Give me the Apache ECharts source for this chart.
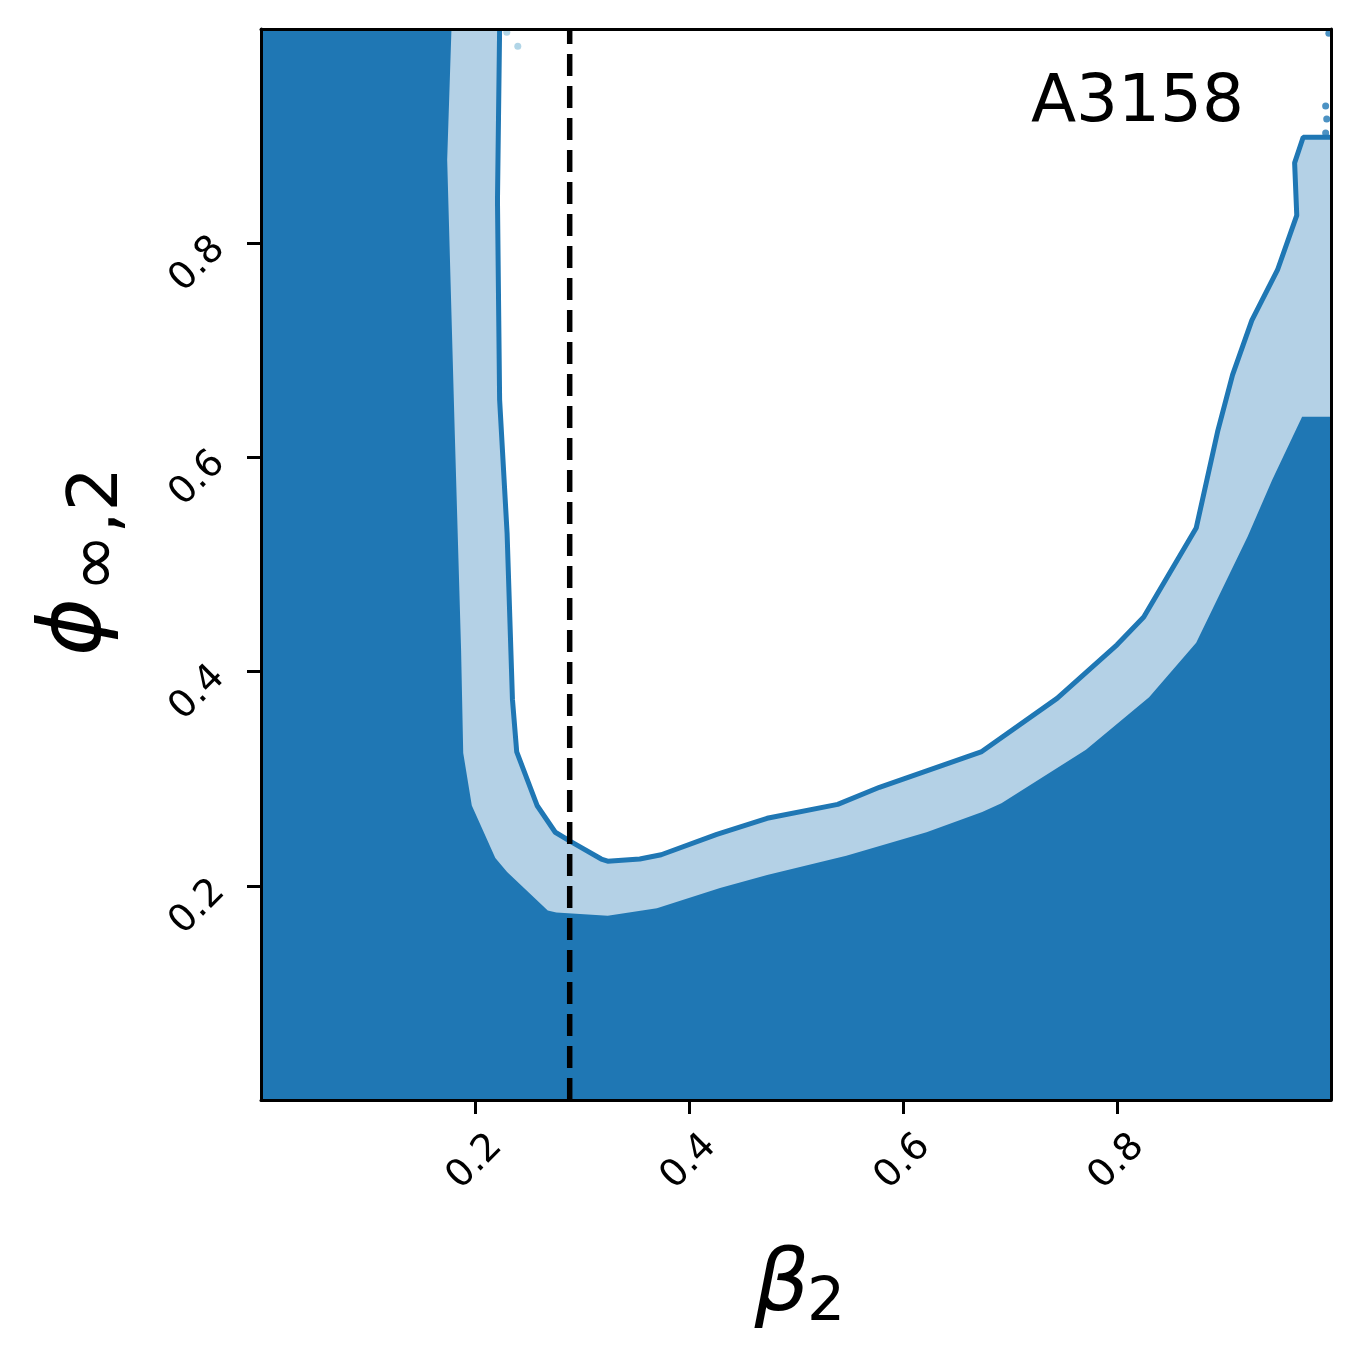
<!DOCTYPE html>
<html>
<head>
<meta charset="utf-8">
<script src="https://cdn.jsdelivr.net/npm/echarts@6/dist/echarts.min.js"></script>
<style>
  html, body { margin: 0; padding: 0; background: #fff; }
  #chart { width: 1362px; height: 1361px; }
</style>
</head>
<body>
<div id="chart"></div>
<script>
// edge of the dark (inner) credible region
const darkEdge = [
  [0.178, 1.0], [0.174, 0.878], [0.181, 0.626], [0.187, 0.420], [0.189, 0.324],
  [0.197, 0.275], [0.219, 0.226], [0.230, 0.213], [0.268, 0.177], [0.276, 0.175],
  [0.324, 0.172], [0.370, 0.179], [0.429, 0.198], [0.473, 0.210], [0.547, 0.228],
  [0.622, 0.250], [0.674, 0.269], [0.692, 0.277], [0.771, 0.327], [0.830, 0.376],
  [0.874, 0.427], [0.922, 0.526], [0.945, 0.579], [0.973, 0.638], [1.0, 0.638]
];
// outer contour (light region edge, drawn as a line)
const outerContour = [
  [0.223, 1.0], [0.221, 0.840], [0.223, 0.654], [0.230, 0.529], [0.235, 0.374],
  [0.239, 0.325], [0.258, 0.275], [0.275, 0.250], [0.290, 0.241], [0.318, 0.225],
  [0.324, 0.223], [0.354, 0.225], [0.374, 0.229], [0.426, 0.248], [0.473, 0.263],
  [0.539, 0.276], [0.578, 0.292], [0.673, 0.325], [0.744, 0.375], [0.800, 0.425],
  [0.825, 0.451], [0.874, 0.534], [0.894, 0.624], [0.908, 0.677], [0.926, 0.728],
  [0.950, 0.775], [0.968, 0.826], [0.966, 0.875], [0.974, 0.899], [1.0, 0.899]
];
const lightDots = [[0.2297, 0.997], [0.240, 0.984]];
const darkDots = [[0.998, 0.996], [0.995, 0.928], [0.996, 0.916], [0.995, 0.903]];
const betaRef = 0.2885;
const tickValues = [0.2, 0.4, 0.6, 0.8];

const dark = '#1f77b4';
const light = '#b4d1e6';

// closed polygons: region below/left of each edge
const lightPoly = [[0, 1]].concat(outerContour, [[1, 0], [0, 0]]);
const darkPoly = [[0, 1]].concat(darkEdge, [[1, 0], [0, 0]]);
const polys = [lightPoly, darkPoly];
const polyColors = [light, dark];

let myChart = echarts.init(document.getElementById('chart'), null, { renderer: 'canvas' });

const tickLabel = {
  customValues: tickValues,
  formatter: function (v) { return v.toFixed(1); },
  rotate: 45,
  color: '#000',
  fontFamily: 'DejaVu Sans',
  fontSize: 38
};
const axisBase = {
  type: 'value',
  min: 0,
  max: 1,
  z: 10,
  splitLine: { show: false },
  axisLine: { show: true, onZero: false, lineStyle: { color: '#000', width: 3 } },
  axisTick: { show: true, customValues: tickValues, length: 14, lineStyle: { color: '#000', width: 3 } }
};
const frameAxis = {
  type: 'value', min: 0, max: 1, z: 10,
  splitLine: { show: false }, axisTick: { show: false }, axisLabel: { show: false },
  axisLine: { show: true, onZero: false, lineStyle: { color: '#000', width: 3 } }
};

let option = {
  animation: false,
  backgroundColor: '#fff',
  grid: { left: 261, right: 31, top: 29, bottom: 261 },
  xAxis: [
    Object.assign({}, axisBase, { position: 'bottom', axisLabel: Object.assign({}, tickLabel, { margin: 62, align: 'center', verticalAlign: 'middle' }) }),
    Object.assign({}, frameAxis, { position: 'top' })
  ],
  yAxis: [
    Object.assign({}, axisBase, { position: 'left', axisLabel: Object.assign({}, tickLabel, { margin: 42 }) }),
    Object.assign({}, frameAxis, { position: 'right' })
  ],
  series: [
    {
      type: 'custom',
      data: [0, 1],
      clip: true,
      z: 1,
      renderItem: function (params, api) {
        let pts = polys[params.dataIndex].map(function (p) { return api.coord(p); });
        return {
          type: 'polygon',
          shape: { points: pts },
          style: { fill: polyColors[params.dataIndex], stroke: null }
        };
      }
    },
    {
      type: 'line',
      data: outerContour,
      showSymbol: false,
      clip: true,
      z: 3,
      lineStyle: { color: dark, width: 5 }
    },
    {
      type: 'scatter',
      data: lightDots,
      symbolSize: 7,
      z: 3,
      itemStyle: { color: '#9ecae1' }
    },
    {
      type: 'scatter',
      data: darkDots,
      symbolSize: 7,
      z: 3,
      itemStyle: { color: dark }
    },
    {
      type: 'line',
      data: [[betaRef, 0], [betaRef, 1]],
      showSymbol: false,
      z: 4,
      lineStyle: { color: '#000', width: 5.5, type: [22, 10] }
    }
  ],
  graphic: [
    {
      type: 'text', x: 1244, y: 104,
      style: { text: 'A3158', font: '66px "DejaVu Sans"', fill: '#000', align: 'right', verticalAlign: 'middle' }
    },
    {
      type: 'text', x: 782, y: 1288,
      style: { text: 'β', font: 'italic 86px "DejaVu Sans"', fill: '#000', align: 'center', verticalAlign: 'middle' }
    },
    {
      type: 'text', x: 807, y: 1304,
      style: { text: '2', font: '60px "DejaVu Sans"', fill: '#000', align: 'left', verticalAlign: 'middle' }
    },
    {
      type: 'group', x: 77, y: 627, rotation: Math.PI / 2,
      children: [
        {
          type: 'text', x: 0, y: 0,
          style: { text: 'ϕ', font: 'italic 88px "DejaVu Sans"', fill: '#000', align: 'center', verticalAlign: 'middle' }
        },
        {
          type: 'text', x: 35, y: 22,
          style: { text: '∞,2', font: '70px "DejaVu Sans"', fill: '#000', align: 'left', verticalAlign: 'middle' }
        }
      ]
    }
  ]
};

myChart.setOption(option);
</script>
</body>
</html>
